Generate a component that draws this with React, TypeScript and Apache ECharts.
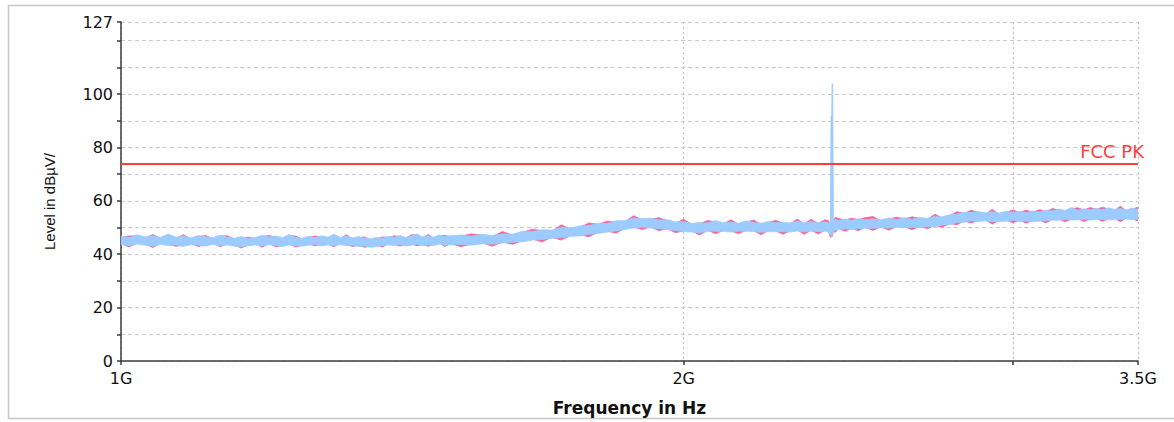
import React, { useEffect, useRef } from "react";
import * as echarts from "echarts";

// Frequency samples (MHz)
const freqMHz = [
  1000, 1010, 1020, 1030, 1040, 1050, 1060, 1070, 1080, 1090,
  1100, 1110, 1120, 1130, 1140, 1150, 1160, 1170, 1180, 1190,
  1200, 1210, 1220, 1230, 1240, 1250, 1260, 1270, 1280, 1290,
  1300, 1310, 1320, 1330, 1340, 1350, 1360, 1370, 1380, 1390,
  1400, 1410, 1420, 1430, 1440, 1450, 1460, 1470, 1480, 1490,
  1500,
  1520, 1540, 1560, 1580, 1600, 1620, 1640, 1660, 1680, 1700,
  1720, 1740, 1760, 1780, 1800, 1820, 1840, 1860, 1880, 1900,
  1920, 1940, 1960, 1980, 2000, 2020, 2040, 2060, 2080, 2100,
  2120, 2140, 2160, 2180, 2200, 2220, 2240, 2260, 2280, 2300,
  2320, 2340, 2360, 2380,
  2390, 2396, 2398, 2400, 2401, 2403, 2405, 2410,
  2420, 2440, 2460, 2480, 2500,
  2525, 2550, 2575, 2600, 2625, 2650, 2675, 2700, 2725, 2750,
  2775, 2800, 2825, 2850, 2875, 2900, 2925, 2950, 2975, 3000,
  3025, 3050, 3075, 3100, 3125, 3150, 3175, 3200, 3225, 3250,
  3275, 3300, 3325, 3350, 3375, 3400, 3425, 3450, 3475, 3500,
];

// Light-blue trace envelope (dBµV)
const blueHigh = [
  46.8, 46.2, 47.3, 46.5, 46.9, 46.3, 47.6, 46.4, 46.8, 46.1,
  47.0, 46.5, 46.2, 47.2, 46.4, 46.0, 46.6, 45.9, 46.3, 47.1,
  46.5, 46.8, 46.2, 47.4, 46.3, 46.0, 46.7, 46.2, 46.9, 46.4,
  47.5, 46.3, 46.8, 46.1, 46.6, 46.0, 45.8, 46.3, 46.0, 46.7,
  46.4, 47.0, 46.3, 46.8, 47.6, 46.5, 46.9, 46.4, 47.2, 46.6,
  46.9,
  47.2, 46.7, 47.5, 47.0, 47.6, 47.5, 48.6, 48.5, 49.2, 49.0,
  50.1, 49.8, 50.6, 50.8, 51.6, 51.5, 52.5, 52.6, 53.6, 53.3,
  53.5, 52.8, 52.9, 52.1, 52.2, 51.5, 51.9, 51.7, 52.6, 51.8,
  52.0, 51.6, 52.5, 51.9, 51.6, 52.3, 51.8, 52.0, 51.7, 52.4,
  51.8, 52.2, 51.9, 52.1,
  51.8, 51.6, 91.8, 91.8, 103.8, 103.8, 52.8, 53.0,
  52.6, 53.2, 52.7, 53.3, 52.9,
  53.2, 52.9, 53.6, 53.0, 53.7, 53.1, 53.8, 53.4, 54.1, 54.0,
  54.8, 55.0, 55.7, 55.6, 56.0, 55.5, 55.9, 55.4, 56.1, 55.7,
  56.0, 55.6, 56.2, 55.8, 56.5, 56.2, 56.9, 56.4, 57.5, 56.5,
  57.0, 56.6, 57.2, 56.7, 57.4, 56.8, 57.1, 56.6, 57.3, 56.8,
];
const blueLow = [
  43.6, 43.2, 43.8, 43.4, 43.0, 43.7, 43.3, 43.5, 42.9, 43.6,
  43.4, 43.1, 43.7, 43.3, 43.5, 43.0, 42.8, 43.2, 43.5, 43.1,
  43.6, 43.3, 42.9, 43.5, 43.2, 43.0, 43.4, 43.7, 43.1, 43.5,
  43.3, 43.6, 43.2, 43.4, 42.9, 43.1, 42.6, 42.8, 43.2, 43.5,
  43.3, 43.6, 43.1, 43.4, 43.7, 43.2, 43.5, 43.3, 43.8, 43.4,
  43.6,
  43.6, 43.4, 43.9, 43.8, 44.2, 44.5, 44.7, 45.3, 45.5, 46.0,
  46.2, 46.7, 46.8, 47.5, 47.8, 48.3, 48.7, 49.3, 49.8, 50.1,
  49.8, 49.6, 49.2, 48.9, 48.4, 48.3, 48.0, 48.6, 48.6, 48.5,
  48.3, 48.6, 48.6, 48.5, 48.2, 48.5, 48.4, 48.4, 48.3, 48.7,
  48.4, 48.6, 48.5, 48.6,
  48.4, 47.2, 47.0, 47.0, 47.0, 47.5, 48.8, 49.0,
  49.2, 49.5, 49.3, 49.6, 49.7,
  49.7, 49.9, 49.8, 50.0, 49.9, 50.1, 50.0, 50.3, 50.4, 50.9,
  51.1, 51.8, 52.0, 52.5, 52.3, 52.5, 52.2, 52.3, 52.4, 52.6,
  52.3, 52.4, 52.3, 52.4, 52.5, 52.8, 52.7, 53.0, 52.8, 52.9,
  53.1, 52.8, 53.0, 53.1, 52.9, 53.1, 53.0, 53.2, 52.9, 53.1,
];

// Pink trace envelope (dBµV)
const pinkHigh = [
  46.4, 46.8, 46.9, 46.1, 47.4, 45.9, 47.2, 46.0, 47.3, 45.7,
  46.6, 47.0, 45.8, 46.8, 46.9, 45.6, 46.2, 46.4, 45.9, 46.7,
  47.0, 46.4, 45.8, 47.0, 46.8, 45.6, 46.3, 46.8, 46.5, 46.0,
  47.1, 45.9, 47.3, 45.7, 46.2, 46.5, 45.4, 45.9, 46.5, 46.3,
  46.9, 46.6, 45.9, 47.3, 47.2, 46.1, 47.4, 46.0, 46.8, 47.1,
  46.5,
  46.8, 47.6, 47.1, 46.6, 48.5, 47.1, 48.2, 49.4, 48.8, 48.6,
  51.0, 49.4, 50.2, 51.7, 51.2, 52.4, 52.1, 52.2, 54.4, 52.9,
  53.1, 53.7, 52.5, 51.7, 53.1, 51.1, 51.5, 52.6, 52.2, 51.4,
  52.9, 51.2, 52.1, 52.8, 51.2, 51.9, 52.7, 51.6, 51.3, 53.2,
  51.4, 53.1, 51.5, 52.9,
  52.6, 51.2, 51.5, 75.4, 75.6, 53.3, 52.4, 53.8,
  53.4, 52.8, 53.5, 52.9, 53.7,
  54.1, 52.5, 53.2, 53.9, 53.3, 54.0, 53.4, 53.0, 55.0, 53.6,
  54.4, 55.9, 55.3, 56.5, 55.6, 55.1, 56.8, 55.0, 55.7, 56.6,
  55.6, 56.5, 55.8, 56.7, 56.1, 57.1, 56.5, 56.0, 57.1, 57.4,
  56.6, 57.5, 56.8, 57.6, 57.0, 56.4, 58.0, 56.2, 56.9, 57.6,
];
const pinkLow = [
  44.0, 42.7, 44.2, 43.8, 42.5, 44.1, 43.7, 43.0, 43.3, 44.0,
  42.9, 43.5, 44.1, 42.8, 43.9, 43.4, 42.3, 43.6, 43.9, 42.6,
  44.0, 42.8, 43.3, 43.9, 42.7, 43.4, 43.8, 43.2, 43.5, 43.9,
  42.8, 44.0, 43.6, 42.9, 43.3, 42.6, 43.0, 43.2, 42.7, 43.9,
  43.7, 43.1, 43.5, 43.8, 43.2, 43.6, 43.0, 43.7, 44.2, 42.9,
  44.0,
  42.8, 43.8, 44.3, 43.0, 44.6, 43.7, 45.1, 45.7, 44.6, 46.4,
  45.3, 47.1, 47.2, 46.6, 48.2, 48.7, 47.9, 49.7, 50.2, 49.3,
  50.2, 48.8, 49.6, 48.0, 48.8, 48.7, 47.2, 49.0, 47.7, 48.9,
  48.7, 47.7, 49.0, 48.9, 47.3, 48.9, 48.8, 47.5, 48.7, 49.1,
  47.5, 49.0, 47.6, 49.0,
  48.8, 46.4, 46.6, 46.6, 46.6, 47.1, 49.2, 48.1,
  49.6, 48.6, 49.7, 48.8, 50.1,
  48.9, 50.3, 49.0, 50.4, 50.3, 49.2, 50.4, 49.5, 50.8, 50.1,
  51.5, 51.0, 52.4, 51.7, 52.7, 52.9, 51.3, 52.7, 52.8, 51.8,
  52.7, 51.6, 52.7, 52.8, 51.7, 53.2, 53.1, 52.2, 53.2, 53.3,
  52.3, 53.2, 53.4, 52.3, 53.3, 53.5, 52.2, 53.6, 53.3, 52.4,
];

const limitName = "FCC PK";
const limitValue = 74;

const xMin = 1000;
const xMax = 3500;
const xLabelValues = [1000, 2000, 3500];
const xTickValues = [1000, 2000, 3000, 3500];
const yMin = 0;
const yMax = 127;
const yStep = 10;
const yLabelStep = 20;
const yLabelTop = 100;

const BLUE = "#9ccbff";
const PINK = "#f2679c";
const RED = "#ff3d3d";
const AXIS = "#3c3c3c";
const TXT = "#111111";

function bandSeries(name: string, low: number[], high: number[], color: string, z: number) {
  const n = Math.min(freqMHz.length, low.length, high.length);
  const rows: number[][] = [];
  for (let i = 0; i < n; i++) rows.push([freqMHz[i], low[i], high[i]]);
  return {
    type: "custom",
    name,
    z,
    silent: true,
    clip: true,
    encode: { x: 0, y: [1, 2] },
    data: rows,
    renderItem: (params: any, api: any) => {
      if (params.dataIndex !== 0) return null;
      const top = rows.map((r) => api.coord([r[0], r[2]]));
      const bottom = rows.map((r) => api.coord([r[0], r[1]])).reverse();
      return {
        type: "polygon",
        shape: { points: top.concat(bottom) },
        style: { fill: color, stroke: color, lineWidth: 0.8 },
      };
    },
  };
}

export default function App() {
  const ref = useRef<HTMLDivElement>(null);
  useEffect(() => {
    if (!ref.current) return;
    const chart = echarts.init(ref.current, null, { renderer: "svg" });
    const fmtG = (v: number) => `${Math.round(v / 100) / 10}G`;
    chart.setOption({
      animation: false,
      backgroundColor: "#ffffff",
      graphic: [
        {
          type: "rect",
          left: 6,
          top: 3,
          shape: { x: 0, y: 0, width: 1180, height: 413 },
          style: { fill: "none", stroke: "#c8c8c8", lineWidth: 1.5 },
          silent: true,
          z: -1,
        },
      ],
      grid: { left: 121, right: 36, top: 22, bottom: 61, containLabel: false },
      xAxis: {
        type: "log",
        logBase: 10,
        min: xMin,
        max: xMax,
        name: "Frequency in Hz",
        nameLocation: "middle",
        nameGap: 38,
        nameTextStyle: { fontFamily: "DejaVu Sans", fontWeight: "bold", fontSize: 17, color: TXT },
        axisLine: { show: true, onZero: false, lineStyle: { color: AXIS, width: 1.5 } },
        axisTick: { show: true, length: 4, customValues: xTickValues, lineStyle: { color: AXIS, width: 1.5 } },
        axisLabel: {
          customValues: xLabelValues,
          formatter: (v: number) => fmtG(v),
          fontFamily: "DejaVu Sans",
          fontSize: 16,
          color: TXT,
          margin: 9,
        },
        splitLine: { show: true, lineStyle: { color: "#bdbdbd", type: [2, 3], width: 1 } },
        minorTick: { show: false },
      },
      yAxis: {
        type: "value",
        min: yMin,
        max: yMax,
        interval: yStep,
        name: "Level in dBµV/",
        nameLocation: "middle",
        nameGap: 64,
        nameRotate: 90,
        nameTextStyle: { fontFamily: "Liberation Sans", fontSize: 15, color: TXT, padding: [0, 20, 0, 0] },
        axisLine: { show: true, lineStyle: { color: AXIS, width: 1.5 } },
        axisTick: { show: true, length: 4, lineStyle: { color: AXIS, width: 1.5 } },
        axisLabel: {
          formatter: (v: number) =>
            (v % yLabelStep === 0 && v <= yLabelTop) || v === yMax ? String(v) : "",
          fontFamily: "DejaVu Sans",
          fontSize: 16,
          color: TXT,
          margin: 8,
        },
        splitLine: { show: true, lineStyle: { color: "#cccccc", type: [4, 3], width: 1 } },
      },
      series: [
        bandSeries("Trace 2", pinkLow, pinkHigh, PINK, 2),
        bandSeries("Trace 1", blueLow, blueHigh, BLUE, 3),
        {
          type: "line",
          name: limitName,
          data: [],
          z: 4,
          markLine: {
            silent: true,
            symbol: ["none", "none"],
            lineStyle: { color: RED, width: 2, type: "solid" },
            label: {
              show: true,
              position: "insideEndTop",
              formatter: limitName,
              color: RED,
              fontFamily: "DejaVu Sans",
              fontSize: 18,
              distance: [-6, 3],
            },
            data: [{ yAxis: limitValue }],
          },
        },
      ],
    });
    return () => chart.dispose();
  }, []);
  return (
    <div
      ref={ref}
      style={{ position: "fixed", left: 0, top: 0, width: 1174, height: 422, background: "#fff" }}
    />
  );
}
